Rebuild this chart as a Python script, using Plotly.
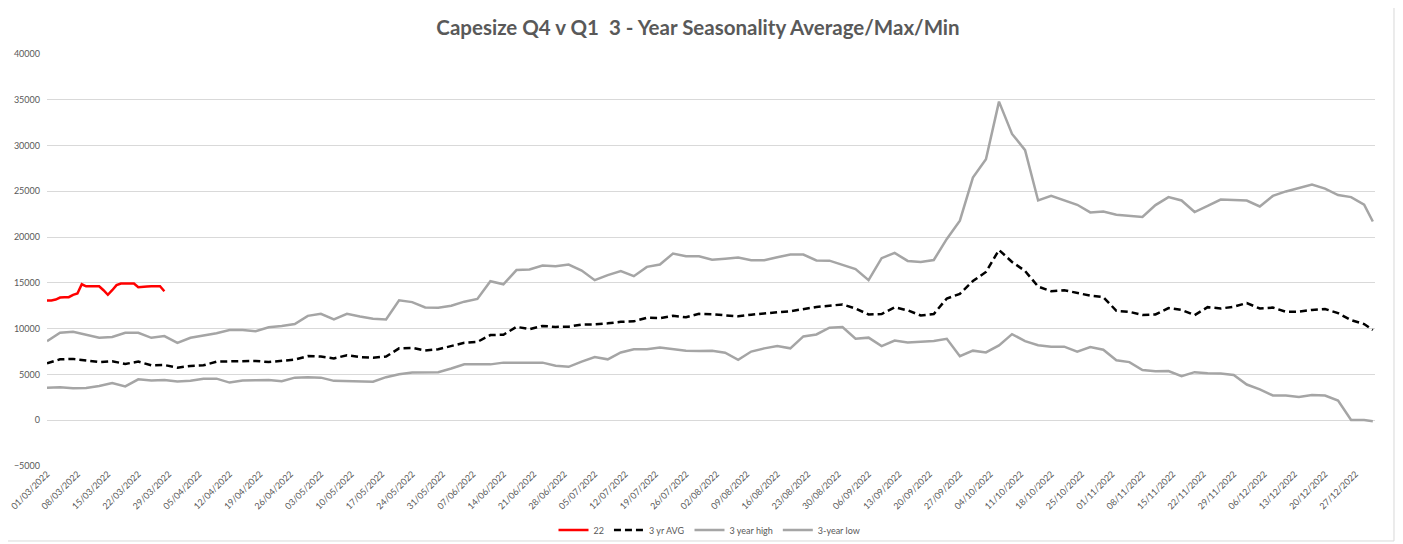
import pandas as pd
import plotly.graph_objects as go

# ---- data ----
title_text = "Capesize Q4 v Q1  3 - Year Seasonality Average/Max/Min"

# "22" series: daily values 01/03/2022 .. 28/03/2022
red_start = "2022-03-01"
red_22 = [13080, 13080, 13180, 13400, 13440, 13440, 13700, 13840, 14850, 14630,
          14630, 14630, 14630, 14200, 13700, 14200, 14750, 14930, 14930, 14930,
          14930, 14520, 14520, 14600, 14630, 14630, 14630, 14090]

# 3-year series sampled every 3 days from 01/03/2022, plus the final day 31/12/2022
sample_start = "2022-03-01"
sample_step_days = 3
final_day = "2022-12-31"

avg_3yr = [6210, 6650, 6700, 6500, 6350, 6450, 6150, 6400, 6000, 6030,
           5740, 5930, 6000, 6400, 6430, 6500, 6480, 6350, 6520, 6620,
           7000, 6950, 6750, 7100, 6900, 6830, 6950, 7850, 7900, 7620,
           7750, 8100, 8460, 8550, 9300, 9340, 10200, 9950, 10300, 10190,
           10220, 10450, 10470, 10580, 10750, 10800, 11190, 11150, 11400, 11250,
           11620, 11570, 11440, 11350, 11520, 11700, 11800, 11900, 12150, 12370,
           12500, 12650, 12200, 11550, 11600, 12330, 12000, 11440, 11600, 13300,
           13800, 15200, 16200, 18600, 17290, 16300, 14600, 14090, 14200, 13920,
           13600, 13450, 11950, 11840, 11500, 11550, 12250, 12050, 11480, 12350,
           12200, 12400, 12800, 12200, 12300, 11850, 11850, 12050, 12150, 11700,
           10930, 10500, 9850]

high_3yr = [8640, 9550, 9660, 9300, 9010, 9100, 9550, 9550, 9000, 9190,
            8450, 9010, 9250, 9500, 9850, 9850, 9730, 10150, 10280, 10500,
            11400, 11620, 11000, 11620, 11320, 11080, 11000, 13100, 12900, 12320,
            12280, 12500, 12950, 13250, 15180, 14850, 16400, 16460, 16900, 16820,
            17000, 16350, 15300, 15850, 16280, 15730, 16750, 17000, 18200, 17900,
            17900, 17540, 17650, 17760, 17470, 17480, 17800, 18100, 18100, 17450,
            17430, 17000, 16500, 15300, 17700, 18270, 17400, 17290, 17500, 19800,
            21800, 26500, 28510, 34800, 31270, 29500, 24000, 24500, 24000, 23530,
            22700, 22800, 22450, 22340, 22200, 23500, 24370, 24000, 22740, 23400,
            24100, 24050, 24000, 23350, 24500, 24990, 25400, 25750, 25300, 24600,
            24370, 23550, 21700]

low_3yr = [3560, 3600, 3500, 3520, 3740, 4050, 3700, 4470, 4350, 4400,
           4220, 4300, 4540, 4540, 4110, 4350, 4360, 4380, 4250, 4650,
           4700, 4650, 4300, 4280, 4180, 4200, 4700, 5030, 5200, 5230,
           5250, 5650, 6100, 6100, 6100, 6290, 6290, 6290, 6290, 5950,
           5830, 6400, 6900, 6650, 7400, 7740, 7740, 7950, 7750, 7600,
           7550, 7600, 7380, 6600, 7500, 7850, 8100, 7850, 9150, 9370,
           10100, 10180, 8900, 9020, 8100, 8700, 8500, 8570, 8660, 8900,
           7000, 7600, 7400, 8170, 9400, 8640, 8200, 8030, 8030, 7500,
           7990, 7700, 6540, 6350, 5480, 5350, 5370, 4800, 5250, 5120,
           5100, 4940, 3900, 3380, 2700, 2700, 2550, 2750, 2700, 2150,
           30, 30, -100]

series_names = ["22", "3 yr AVG", "3 year high", "3-year low"]
y_ticks = [-5000, 0, 5000, 10000, 15000, 20000, 25000, 30000, 35000, 40000]

# ---- build x values (axis dates) ----
red_dates = pd.date_range(red_start, periods=len(red_22), freq="D")
n_samples = len(avg_3yr) - 1
sample_dates = list(pd.date_range(sample_start, periods=n_samples,
                                  freq=f"{sample_step_days}D")) + [pd.Timestamp(final_day)]

GREY = "#A5A5A5"
TXT = "#595959"
GRID = "#D9D9D9"
FONT = "Lato"

fig = go.Figure()
fig.add_trace(go.Scatter(x=red_dates, y=red_22, name=series_names[0], mode="lines",
                         line=dict(color="#FF0000", width=2.5)))
fig.add_trace(go.Scatter(x=sample_dates, y=avg_3yr, name=series_names[1], mode="lines",
                         line=dict(color="#000000", width=2.5, dash="7px,4px")))
fig.add_trace(go.Scatter(x=sample_dates, y=high_3yr, name=series_names[2], mode="lines",
                         line=dict(color=GREY, width=2.5)))
fig.add_trace(go.Scatter(x=sample_dates, y=low_3yr, name=series_names[3], mode="lines",
                         line=dict(color=GREY, width=2.5)))

x_range = ["2022-03-01", "2022-12-31 12:00"]
week_ms = 7 * 24 * 3600 * 1000

# page body has an 8px default margin, so the figure sits 8px right/down
fig.update_layout(
    width=1403, height=544,
    margin=dict(l=39, r=36, t=46, b=86),
    paper_bgcolor="white", plot_bgcolor="white",
    font=dict(family=FONT, color=TXT, size=9),
    title=dict(text=f"<b>{title_text}</b>", x=690 / 1403, xanchor="center",
               y=1 - 20 / 544, yanchor="middle",
               font=dict(family=FONT, size=20.5, color=TXT)),
    showlegend=True,
    legend=dict(orientation="h", xref="container", yref="container",
                x=0.5, xanchor="center", y=1 - 522 / 544, yanchor="middle",
                font=dict(family=FONT, size=9, color=TXT), bgcolor="rgba(0,0,0,0)"),
    xaxis=dict(type="date", range=x_range, tick0="2022-03-01", dtick=week_ms,
               tickformat="%d/%m/%Y", tickangle=-45, showgrid=False, zeroline=False,
               showline=False, ticks="", automargin=False,
               tickfont=dict(family=FONT, size=9, color=TXT)),
    xaxis2=dict(type="date", range=x_range, tick0="2022-03-01", dtick=week_ms,
                overlaying="x", anchor="free", position=5000 / 45000, side="bottom",
                showticklabels=False, showgrid=False, zeroline=False, showline=True,
                linecolor=GRID, linewidth=1, ticks="outside", ticklen=5,
                tickcolor=GRID, tickwidth=1, automargin=False),
    yaxis=dict(range=[-5000, 40000], tickvals=y_ticks, tickformat="d", showgrid=True,
               gridcolor=GRID, gridwidth=1, zeroline=False, showline=False, ticks="",
               automargin=False, ticklabelstandoff=6,
               tickfont=dict(family=FONT, size=9, color=TXT)),
    shapes=[dict(type="rect", xref="paper", yref="paper",
                 x0=-0.034, x1=1.0143, y0=-0.182, y1=1.1286,
                 line=dict(color=GRID, width=1), fillcolor="rgba(0,0,0,0)", layer="below")],
)

fig.write_html("out.html")
